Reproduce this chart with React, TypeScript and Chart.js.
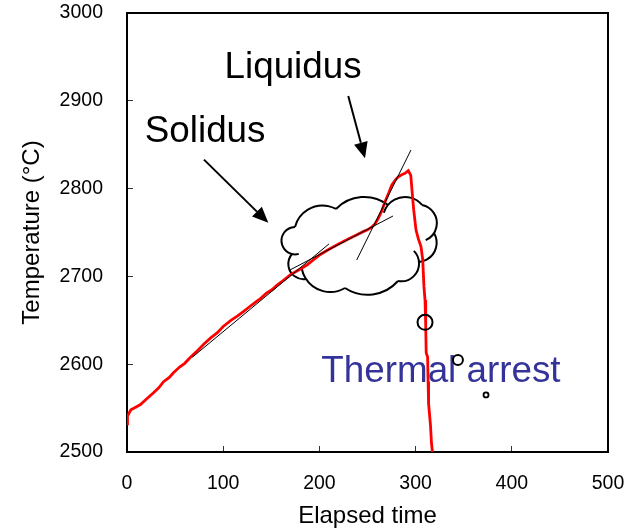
import React, { useEffect, useRef } from "react";
import { Chart, registerables } from "chart.js";

Chart.register(...registerables);

// ---- data ----
const elapsedTime = [
  0, 0.5, 4, 9, 14, 20, 27, 33, 38, 44,
  48, 55, 60, 66, 72, 80, 87, 94, 100, 108,
  115, 121, 128, 134, 139, 145, 151, 156, 162, 170,
  178, 187, 194, 201, 210, 220, 229, 238, 245.5, 250,
  254.3, 258, 261.2, 265, 268.2, 272, 275.2, 279, 282, 286,
  289, 292.4, 295, 296.5, 298, 300.4, 302.8, 305.6, 307.4, 308.7,
  309.8, 310.5, 311, 312.5, 313, 313.5, 315.5, 316.5, 317.5,
];
const temperature = [
  2532, 2541, 2548, 2551, 2554, 2560, 2567, 2573, 2580, 2585,
  2590, 2597, 2601, 2608, 2614, 2623, 2630, 2636, 2643, 2650,
  2655, 2660, 2666, 2671, 2675, 2681, 2685, 2690, 2695, 2702,
  2707, 2713, 2719, 2725, 2731, 2737, 2742, 2747, 2751, 2753,
  2756, 2760, 2766, 2775, 2785, 2795, 2804, 2810, 2813.5, 2816,
  2817.4, 2820.4, 2815, 2795, 2776, 2753, 2743, 2734, 2719, 2688,
  2673, 2645, 2613, 2608, 2580, 2555, 2530, 2510, 2500,
];

const solidusTangentTime = [68, 210];
const solidusTangentTemp = [2608, 2737];
const kneeTangentTime = [169.4, 276.5];
const kneeTangentTemp = [2707.3, 2768.8];
const liquidusTangentTime = [238.8, 295.2];
const liquidusTangentTemp = [2718.7, 2844];

const arrestTime = [309.8, 344, 373.2];
const arrestTemp = [2647.7, 2604.8, 2565];

const xTickValues = [0, 100, 200, 300, 400, 500];
const xTickLabels = ["0", "100", "200", "300", "400", "500"];
const yTickValues = [2500, 2600, 2700, 2800, 2900, 3000];
const yTickLabels = ["2500", "2600", "2700", "2800", "2900", "3000"];

const xTitle = "Elapsed time";
const yTitle = "Temperature (°C)";

// ---- annotations (data coordinates) ----
const textNotes = [
  { text: "Liquidus", t: 101.4, T: 2926 },
  { text: "Solidus", t: 18.5, T: 2853.4 },
];
const arrestNote = { text: "Thermal arrest", t: 202, T: 2580 };
const arrowNotes = [
  { from: [80, 2833], to: [146.9, 2761] },
  { from: [230, 2905.5], to: [247.4, 2834.5] },
];
const cloudAnchor = { t: 242.2, T: 2733.5 };
// notch points (pixel offsets from anchor), bump sagitta, crease extensions
const cloudNotches = [
  [-68, 7], [-65, -20], [-24, -38], [28, -42], [62, -42],
  [74, -14], [59, 15], [38, 34], [-15, 41], [-54, 32],
];
const cloudBulge = [12, 11, 10, 8, 8, 9, 7, 10, 8, 10];
const cloudExtStart = [0.5, 0, 0, 0.4, 0, 0, 0.7, 0, 0, 0];
const cloudExtEnd = [0, 0, 0, 0, 0.6, 0, 0, 0, 0.4, 0];

const FONT = "'Liberation Sans', Arial, Helvetica, sans-serif";

function toXY(arrX: number[], arrY: number[]) {
  return arrX.map((x, i) => ({ x, y: arrY[i] }));
}

function bump(ctx: CanvasRenderingContext2D, p0: number[], p1: number[], h: number, e0: number, e1: number) {
  const dx = p1[0] - p0[0];
  const dy = p1[1] - p0[1];
  const len = Math.hypot(dx, dy);
  const nx = dy / len;
  const ny = -dx / len;
  const half = len / 2;
  const r = (half * half + h * h) / (2 * h);
  const mx = (p0[0] + p1[0]) / 2;
  const my = (p0[1] + p1[1]) / 2;
  const cx = mx - nx * (r - h);
  const cy = my - ny * (r - h);
  const a0 = Math.atan2(p0[1] - cy, p0[0] - cx);
  let a1 = Math.atan2(p1[1] - cy, p1[0] - cx);
  if (a1 < a0) a1 += Math.PI * 2;
  ctx.beginPath();
  ctx.arc(cx, cy, r, a0 - e0, a1 + e1, false);
  ctx.stroke();
}

const annotationPlugin = {
  id: "annotations",
  beforeDatasetsDraw(chart: any) {
    const { ctx, scales } = chart;
    const xs = scales.x;
    const ys = scales.y;
    ctx.save();
    ctx.font = `36.8px ${FONT}`;
    ctx.fillStyle = "#333399";
    ctx.textAlign = "left";
    ctx.textBaseline = "alphabetic";
    ctx.fillText(arrestNote.text, xs.getPixelForValue(arrestNote.t), ys.getPixelForValue(arrestNote.T));
    const ax = xs.getPixelForValue(cloudAnchor.t);
    const ay = ys.getPixelForValue(cloudAnchor.T);
    ctx.strokeStyle = "#000";
    ctx.lineWidth = 2;
    const n = cloudNotches.length;
    for (let i = 0; i < n; i++) {
      const a = cloudNotches[i];
      const b = cloudNotches[(i + 1) % n];
      bump(ctx, [ax + a[0], ay + a[1]], [ax + b[0], ay + b[1]], cloudBulge[i], cloudExtStart[i], cloudExtEnd[i]);
    }
    ctx.restore();
  },
  afterDatasetsDraw(chart: any) {
    const { ctx, scales, chartArea } = chart;
    const xs = scales.x;
    const ys = scales.y;
    ctx.save();
    ctx.strokeStyle = "#000";
    ctx.lineWidth = 2;
    ctx.beginPath();
    ctx.moveTo(chartArea.left, chartArea.top);
    ctx.lineTo(chartArea.right, chartArea.top);
    ctx.lineTo(chartArea.right, chartArea.bottom);
    ctx.stroke();
    ctx.font = `36.8px ${FONT}`;
    ctx.fillStyle = "#000";
    ctx.textAlign = "left";
    ctx.textBaseline = "alphabetic";
    for (const t of textNotes) {
      ctx.fillText(t.text, xs.getPixelForValue(t.t), ys.getPixelForValue(t.T));
    }
    for (const a of arrowNotes) {
      const x0 = xs.getPixelForValue(a.from[0]);
      const y0 = ys.getPixelForValue(a.from[1]);
      const x1 = xs.getPixelForValue(a.to[0]);
      const y1 = ys.getPixelForValue(a.to[1]);
      const ang = Math.atan2(y1 - y0, x1 - x0);
      const hl = 16;
      const hw = 7;
      const bx = x1 - Math.cos(ang) * hl;
      const by = y1 - Math.sin(ang) * hl;
      ctx.beginPath();
      ctx.moveTo(x0, y0);
      ctx.lineTo(bx, by);
      ctx.lineWidth = 2;
      ctx.stroke();
      ctx.beginPath();
      ctx.moveTo(x1, y1);
      ctx.lineTo(bx + Math.sin(ang) * hw, by - Math.cos(ang) * hw);
      ctx.lineTo(bx - Math.sin(ang) * hw, by + Math.cos(ang) * hw);
      ctx.closePath();
      ctx.fillStyle = "#000";
      ctx.fill();
    }
    ctx.restore();
  },
};

export default function App() {
  const canvasRef = useRef<HTMLCanvasElement | null>(null);

  useEffect(() => {
    const canvas = canvasRef.current;
    if (!canvas) return;
    Chart.defaults.font.family = FONT;
    const tickFont = { size: 19.5, family: FONT };
    const titleFont = { size: 24, family: FONT, lineHeight: 1 };
    const zeroPad = (s: any) => {
      s.paddingTop = 0;
      s.paddingBottom = 0;
      s.paddingLeft = 0;
      s.paddingRight = 0;
    };
    const chart = new Chart(canvas, {
      type: "scatter",
      data: {
        datasets: [
          {
            label: "arrest",
            data: toXY(arrestTime, arrestTemp),
            showLine: false,
            pointRadius: [7.5, 5, 2.5],
            pointBorderWidth: [2, 2, 1.8],
            pointBorderColor: "#000",
            pointBackgroundColor: "rgba(0,0,0,0)",
            order: 0,
          },
          {
            label: "solidus tangent",
            data: toXY(solidusTangentTime, solidusTangentTemp),
            showLine: true,
            borderColor: "#000",
            borderWidth: 1,
            pointRadius: 0,
            order: 1,
          },
          {
            label: "knee tangent",
            data: toXY(kneeTangentTime, kneeTangentTemp),
            showLine: true,
            borderColor: "#000",
            borderWidth: 1,
            pointRadius: 0,
            order: 1,
          },
          {
            label: "liquidus tangent",
            data: toXY(liquidusTangentTime, liquidusTangentTemp),
            showLine: true,
            borderColor: "#000",
            borderWidth: 1,
            pointRadius: 0,
            order: 1,
          },
          {
            label: "temperature",
            data: toXY(elapsedTime, temperature),
            showLine: true,
            borderColor: "#ff0000",
            borderWidth: 2.8,
            pointRadius: 0,
            tension: 0,
            order: 2,
          },
        ],
      },
      options: {
        responsive: false,
        animation: false,
        devicePixelRatio: 1,
        layout: { padding: { top: 13, right: 30, left: 0, bottom: 0 } },
        plugins: {
          legend: { display: false },
          tooltip: { enabled: false },
        },
        scales: {
          x: {
            type: "linear",
            min: 0,
            max: 500,
            afterBuildTicks: (s: any) => {
              s.ticks = xTickValues.map((v) => ({ value: v }));
            },
            afterFit: (s: any) => {
              s.height = 76;
              zeroPad(s);
            },
            grid: {
              drawOnChartArea: false,
              drawTicks: true,
              tickLength: -6,
              color: "#333",
              lineWidth: 1,
            },
            border: { display: true, color: "#000", width: 2 },
            ticks: {
              font: tickFont,
              color: "#000",
              padding: 26,
              maxRotation: 0,
              callback: (_v: any, i: number) => xTickLabels[i],
            },
            title: {
              display: true,
              text: xTitle,
              font: titleFont,
              color: "#000",
              padding: { top: 0, bottom: 0 },
            },
          },
          y: {
            type: "linear",
            min: 2500,
            max: 3000,
            afterBuildTicks: (s: any) => {
              s.ticks = yTickValues.map((v) => ({ value: v }));
            },
            afterFit: (s: any) => {
              s.width = 127;
              zeroPad(s);
            },
            grid: {
              drawOnChartArea: false,
              drawTicks: true,
              tickLength: -6,
              color: "#333",
              lineWidth: 1,
            },
            border: { display: true, color: "#000", width: 2 },
            ticks: {
              font: tickFont,
              color: "#000",
              padding: 30,
              callback: (_v: any, i: number) => yTickLabels[i],
            },
            title: {
              display: true,
              text: yTitle,
              font: titleFont,
              color: "#000",
              padding: { top: 20, bottom: 0 },
            },
          },
        },
      },
      plugins: [annotationPlugin],
    } as any);
    return () => chart.destroy();
  }, []);

  return (
    <div style={{ position: "absolute", left: 0, top: 0, width: 638, height: 528, background: "#fff" }}>
      <canvas ref={canvasRef} width={638} height={528} style={{ width: 638, height: 528, display: "block" }} />
    </div>
  );
}
